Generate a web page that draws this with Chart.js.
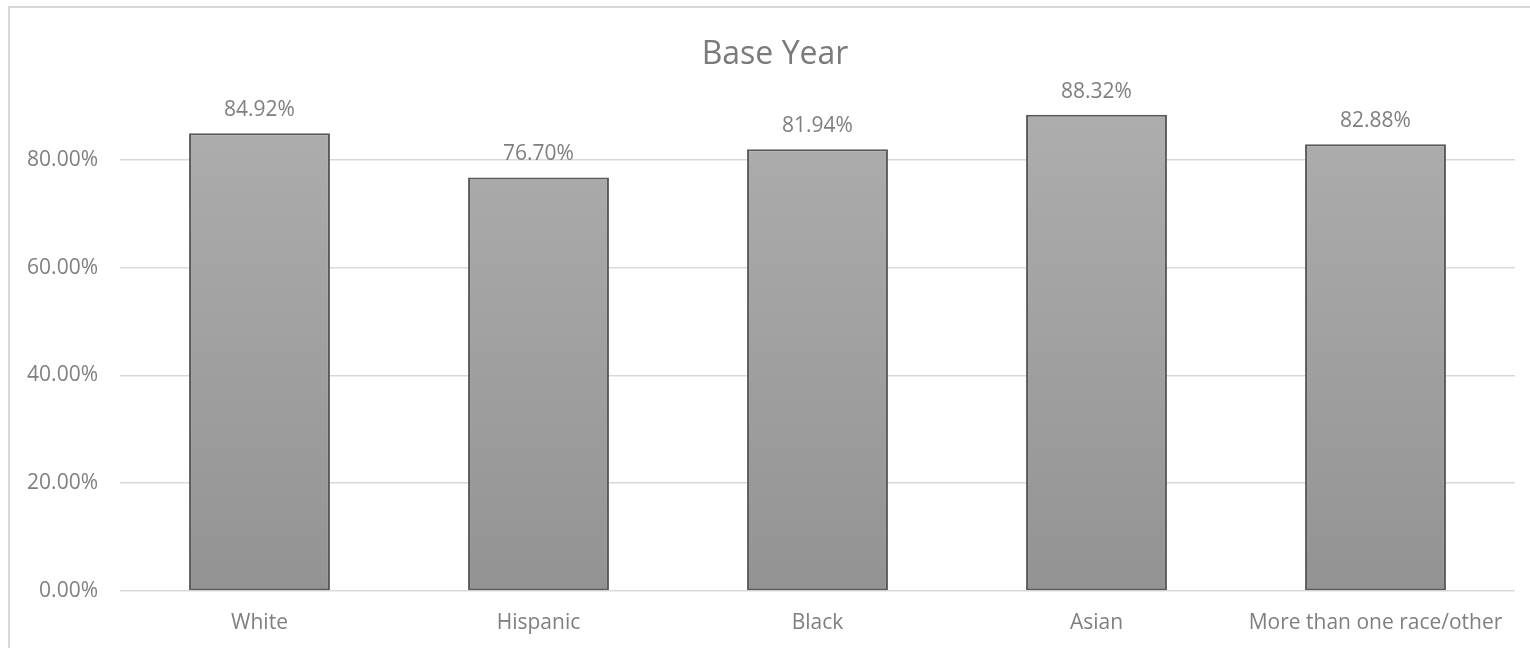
<!DOCTYPE html>
<html>
<head>
<meta charset="utf-8">
<script src="https://cdn.jsdelivr.net/npm/chart.js@4.4.1/dist/chart.umd.min.js"></script>
<style>
  html, body { margin: 0; padding: 0; background: #ffffff; overflow: hidden; }
  #wrap { position: relative; width: 1530px; height: 648px; }
  #frame {
    position: absolute; left: 8px; top: 6px; width: 1600px; height: 700px;
    border-left: 2px solid #d9d9d9; border-top: 2px solid #d9d9d9;
    pointer-events: none;
  }
  canvas { position: absolute; left: 0; top: 0; }
</style>
</head>
<body>
<div id="wrap">
  <canvas id="chart" width="1530" height="648"></canvas>
  <div id="frame"></div>
</div>
<script>
// Share of participants by race/ethnicity, base year
const chartTitle = 'Base Year';
const categories = ['White', 'Hispanic', 'Black', 'Asian', 'More than one race/other'];
const shares = [0.8492, 0.7670, 0.8194, 0.8832, 0.8288];
const yTickValues = [0, 0.2, 0.4, 0.6, 0.8];

const FONT = '"Open Sans", "Noto Sans", sans-serif';
const TEXT = '#7f7f7f';
const pct = v => (v * 100).toFixed(2) + '%';

// Title centred over the whole chart frame
const titlePlugin = {
  id: 'frameTitle',
  afterDraw(chart) {
    const c = chart.ctx;
    c.save();
    c.font = '32px ' + FONT;
    c.fillStyle = '#7a7a7a';
    c.textAlign = 'center';
    c.textBaseline = 'alphabetic';
    c.fillText(chartTitle, 775, 64);
    c.restore();
  }
};

// Value labels above each bar
const valueLabels = {
  id: 'valueLabels',
  afterDatasetsDraw(chart) {
    const c = chart.ctx;
    const meta = chart.getDatasetMeta(0);
    c.save();
    c.font = '21px ' + FONT;
    c.fillStyle = TEXT;
    c.textAlign = 'center';
    c.textBaseline = 'alphabetic';
    meta.data.forEach((bar, i) => {
      c.fillText(pct(shares[i]), bar.x, bar.y - 17);
    });
    c.restore();
  }
};

new Chart(document.getElementById('chart'), {
  type: 'bar',
  data: {
    labels: categories,
    datasets: [{
      data: shares,
      backgroundColor(ctx) {
        const area = ctx.chart.chartArea;
        if (!area) return '#a0a0a0';
        const g = ctx.chart.ctx.createLinearGradient(0, area.top, 0, area.bottom);
        g.addColorStop(0, '#aeaeae');
        g.addColorStop(1, '#939393');
        return g;
      },
      borderColor: '#595959',
      borderWidth: 2,
      borderSkipped: false,
      categoryPercentage: 1,
      barPercentage: 0.505
    }]
  },
  options: {
    responsive: false,
    animation: false,
    devicePixelRatio: 1,
    layout: { padding: { top: 95, right: 15, bottom: 0, left: 0 } },
    plugins: {
      legend: { display: false },
      title: { display: false },
      tooltip: { enabled: false }
    },
    scales: {
      x: {
        grid: { display: false, drawTicks: false },
        border: { display: false },
        ticks: { color: TEXT, font: { family: FONT, size: 21 }, padding: 19, maxRotation: 0, autoSkip: false },
        afterFit(scale) { scale.height = 57; }
      },
      y: {
        min: 0,
        max: 0.92,
        grid: { color: '#d9d9d9', lineWidth: 1.5, drawTicks: false },
        border: { display: false },
        ticks: {
          color: TEXT,
          font: { family: FONT, size: 21 },
          padding: 22,
          callback: v => pct(v)
        },
        afterBuildTicks(scale) { scale.ticks = yTickValues.map(v => ({ value: v })); },
        afterFit(scale) { scale.width = 120; }
      }
    }
  },
  plugins: [titlePlugin, valueLabels]
});
</script>
</body>
</html>
